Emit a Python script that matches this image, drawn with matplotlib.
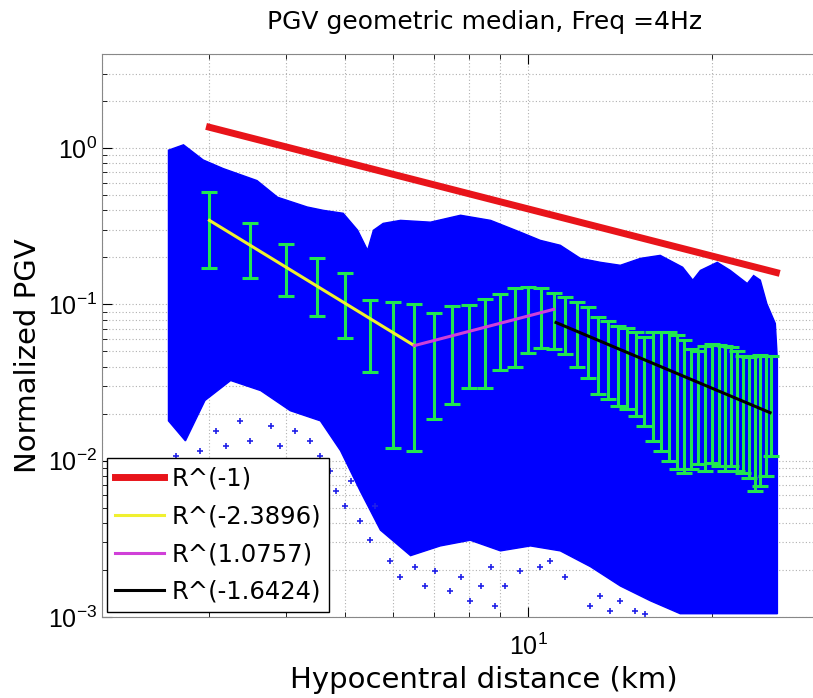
import matplotlib
matplotlib.use("Agg")
import matplotlib.pyplot as plt
from matplotlib.ticker import LogLocator

plt.rcParams['font.family'] = ['Liberation Sans', 'DejaVu Sans']
plt.rcParams['mathtext.default'] = 'regular'

# binned geometric medians with spread (km, normalized PGV)
distance_km = [3.0, 3.5, 4.0, 4.5, 5.0, 5.5, 6.0, 6.5, 7.0, 7.5, 8.0, 8.5, 9.0, 9.5,
               10.0, 10.5, 11.0, 11.5, 12.0, 12.5, 13.0, 13.5, 14.0, 14.5, 15.0, 15.5,
               16.0, 16.5, 17.0, 17.5, 18.0, 18.5, 19.0, 19.5, 20.0, 20.5, 21.0, 21.5,
               22.0, 22.5, 23.0, 23.5, 24.0, 24.5, 25.0]
median_pgv = [0.34, 0.23, 0.17, 0.13, 0.10, 0.065, 0.055, 0.05, 0.045, 0.048, 0.055, 0.058,
              0.068, 0.072, 0.082, 0.084, 0.080, 0.075, 0.065, 0.058, 0.048, 0.045, 0.041,
              0.039, 0.036, 0.033, 0.031, 0.030, 0.028, 0.026, 0.025, 0.023, 0.022, 0.022,
              0.022, 0.021, 0.021, 0.020, 0.020, 0.018, 0.017, 0.016, 0.017, 0.018, 0.022]
upper_pgv = [0.522, 0.331, 0.242, 0.197, 0.158, 0.106, 0.103, 0.101, 0.0875, 0.097, 0.0986,
             0.109, 0.116, 0.127, 0.130, 0.127, 0.118, 0.111, 0.103, 0.0957, 0.0826, 0.0789,
             0.0733, 0.0702, 0.0662, 0.0623, 0.0662, 0.0671, 0.0662, 0.0633, 0.0588, 0.0522,
             0.0507, 0.0546, 0.0562, 0.0554, 0.0546, 0.0538, 0.0507, 0.0471, 0.0464, 0.0471,
             0.0478, 0.0471, 0.0471]
lower_pgv = [0.170, 0.147, 0.1125, 0.0838, 0.0614, 0.0367, 0.0121, 0.0116, 0.0186, 0.0232,
             0.029, 0.0294, 0.0378, 0.0395, 0.0492, 0.053, 0.0522, 0.0485, 0.0395, 0.034,
             0.0269, 0.025, 0.0225, 0.0215, 0.0194, 0.0168, 0.0134, 0.0116, 0.0100, 0.0089,
             0.0084, 0.0089, 0.0096, 0.0086, 0.0097, 0.0092, 0.0086, 0.0093, 0.0086, 0.0084,
             0.0077, 0.0064, 0.0069, 0.0080, 0.0108]

# outline of the dense cloud of recordings
cloud_top_r = [2.57, 2.72, 2.93, 3.16, 3.59, 3.88, 4.34, 4.61, 4.97, 5.25, 5.45, 5.57, 5.78,
               6.17, 6.91, 7.74, 8.67, 9.70, 10.46, 11.28, 12.17, 13.12, 14.15, 15.26, 16.45,
               17.9, 18.6, 19.14, 20.4, 21.43, 22.85, 23.4, 24.0, 24.6, 25.4, 25.6]
cloud_top_v = [0.97, 1.05, 0.84, 0.74, 0.62, 0.485, 0.42, 0.40, 0.383, 0.298, 0.222, 0.298,
               0.33, 0.345, 0.336, 0.372, 0.345, 0.29, 0.257, 0.239, 0.197, 0.186, 0.178,
               0.197, 0.206, 0.173, 0.143, 0.165, 0.186, 0.165, 0.136, 0.153, 0.143, 0.101,
               0.0755, 0.0438]
cloud_bot_r = [2.57, 2.74, 2.95, 3.25, 3.64, 4.07, 4.56, 4.92, 5.30, 5.72, 6.41, 7.17, 8.03,
               9.00, 10.08, 11.28, 12.64, 14.15, 15.85, 17.74, 25.6]
cloud_bot_v = [0.018, 0.0134, 0.0243, 0.0326, 0.0281, 0.0209, 0.018, 0.0116, 0.0064, 0.0036,
               0.00247, 0.00285, 0.0031, 0.00265, 0.00285, 0.00265, 0.0021, 0.00158, 0.00127,
               0.00105, 0.00105]

# scattered recordings below the cloud
stray_r = [2.64, 2.79, 2.90, 3.07, 3.19, 3.37, 3.50, 3.64, 3.78, 3.92, 4.15, 4.23, 4.39, 4.56,
           4.73, 4.83, 5.01, 5.11, 5.30, 5.51, 5.61, 5.94, 6.17, 6.53, 6.78, 7.04, 7.45, 7.74,
           8.03, 8.35, 8.67, 8.83, 9.17, 9.70, 10.46, 10.86, 11.5, 12.64, 13.12, 13.62, 14.15,
           14.97, 15.55]
stray_v = [0.0108, 0.0086, 0.0116, 0.0156, 0.0125, 0.018, 0.0134, 0.0100, 0.0167, 0.0125,
           0.0156, 0.0100, 0.0134, 0.0108, 0.0086, 0.0064, 0.00515, 0.0074, 0.0041, 0.0031,
           0.00515, 0.00229, 0.0018, 0.0021, 0.00158, 0.00197, 0.00147, 0.0018, 0.00127,
           0.00158, 0.0021, 0.00118, 0.00158, 0.00197, 0.0021, 0.00229, 0.0018, 0.00118,
           0.00137, 0.00109, 0.00127, 0.00109, 0.00105]

# power-law fits (segment end points)
ref_r, ref_v = [3.0, 25.5], [1.36, 0.16]
fit1_r, fit1_v = [3.0, 6.5], [0.345, 0.0545]
fit2_r, fit2_v = [6.5, 11.0], [0.0545, 0.093]
fit3_r, fit3_v = [11.1, 24.9], [0.0766, 0.0203]

fig = plt.figure(figsize=(8.13, 6.98), dpi=100)
# the original figure is cropped on the right, so the axes run past the edge
ax = fig.add_axes([0.1255, 0.116, 0.94, 0.8066])
ax.set_xscale('log')
ax.set_yscale('log')

ax.fill(cloud_top_r + cloud_bot_r[::-1], cloud_top_v + cloud_bot_v[::-1],
        color='#0000ff', lw=1, zorder=2)
ax.plot(stray_r, stray_v, '+', color='#2020e8', ms=5, mew=1.2, zorder=2)

yerr = [[m - lo for m, lo in zip(median_pgv, lower_pgv)],
        [hi - m for m, hi in zip(median_pgv, upper_pgv)]]
ax.errorbar(distance_km, median_pgv, yerr=yerr, fmt='none', ecolor='#22e650',
            elinewidth=2.2, capsize=5.5, capthick=2.2, zorder=3)

ax.plot(ref_r, ref_v, color='#e8141a', lw=5, label='R^(-1)', zorder=4)
ax.plot(fit1_r, fit1_v, color='#f0f030', lw=2.2, label='R^(-2.3896)', zorder=4)
ax.plot(fit2_r, fit2_v, color='#d040d8', lw=2.2, label='R^(1.0757)', zorder=4)
ax.plot(fit3_r, fit3_v, color='black', lw=2.2, label='R^(-1.6424)', zorder=4)

ax.set_xlim(2.0, 35.8)
ax.set_ylim(1e-3, 4.0)
ax.yaxis.set_major_locator(LogLocator(base=10, numticks=10))
ax.yaxis.set_minor_locator(LogLocator(base=10, subs=range(2, 10), numticks=10))
ax.grid(True, which='both', color='#b0b0b0', linestyle=(0, (1, 2)), lw=0.8)
ax.set_axisbelow(True)
ax.tick_params(which='both', direction='in', top=True, right=True, labelsize=18)
ax.tick_params(which='major', length=7)
ax.tick_params(which='minor', length=3.5)
ax.tick_params(axis='x', pad=12)
for s in ax.spines.values():
    s.set_color('#888888')

ax.set_title('PGV geometric median, Freq =4Hz', fontsize=18, pad=18, family='DejaVu Sans')
ax.set_xlabel('Hypocentral distance (km)', fontsize=21, labelpad=4, family='DejaVu Sans')
ax.set_ylabel('Normalized PGV', fontsize=21, family='DejaVu Sans')
ax.yaxis.set_label_coords(-0.079, 0.465)

ax.legend(loc='lower left', prop={'family': 'DejaVu Sans', 'size': 17.5}, frameon=True,
          fancybox=False, edgecolor='black', framealpha=1, handlelength=2.0,
          borderaxespad=0.2, labelspacing=0.56, handletextpad=0.3, borderpad=0.35)

fig.savefig('out.png')
